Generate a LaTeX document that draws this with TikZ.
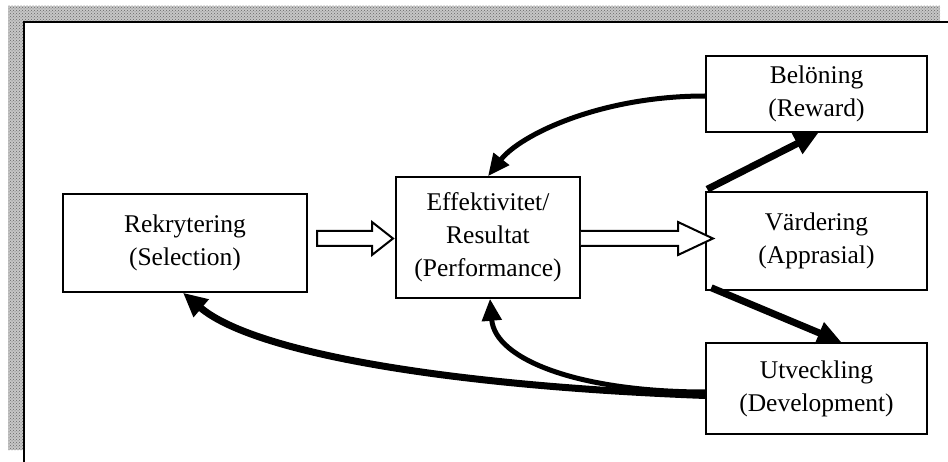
\documentclass[tikz,border=0pt]{standalone}
\usepackage{fontspec}
\setmainfont{Liberation Serif}
\usetikzlibrary{arrows.meta,calc,patterns}
\begin{document}
\begin{tikzpicture}[x=1pt,y=-1pt,
  box/.style={draw, line width=1.5pt, rectangle, align=center, inner sep=0pt,
    font=\fontsize{25.5}{33}\selectfont},
  heavy/.style={line width=7pt, -{Triangle[length=24pt,width=22pt]}},
  curvy/.style={line width=5pt, -{Triangle[length=22pt,width=19pt]}},
  hollow/.style={draw, fill=white, line width=2pt, line join=miter},
  border/.style={fill=gray!45}
]
\useasboundingbox (0,0) rectangle (948,462);
% textured frame
\fill[border] (8,6) rectangle (940,22);
\fill[border] (8,22) rectangle (24,450);
\fill[pattern=crosshatch dots, pattern color=black!60] (8,6) rectangle (940,22);
\fill[pattern=crosshatch dots, pattern color=black!60] (8,22) rectangle (24,450);
\draw[line width=2.5pt] (24,462) -- (24,22) -- (948,22);

% boxes
\node[box, minimum width=244pt, minimum height=98pt] (rek) at (185,243) {Rekrytering\\(Selection)};
\node[box, minimum width=184pt, minimum height=121pt] (eff) at (488,237.5) {Effektivitet/\\Resultat\\(Performance)};
\node[box, minimum width=221pt, minimum height=76pt] (bel) at (816.5,94) {Belöning\\(Reward)};
\node[box, minimum width=221pt, minimum height=98pt] (var) at (816.5,241) {Värdering\\(Apprasial)};
\node[box, minimum width=221pt, minimum height=91pt] (utv) at (816.5,388.5) {Utveckling\\(Development)};

% hollow arrows
\draw[hollow] (317,231) -- (372,231) -- (372,222) -- (393,238.5) -- (372,255) -- (372,246) -- (317,246) -- cycle;
\draw[hollow] (eff.east |- 0,231) -- (678,231) -- (678,222) -- (713,238.5) -- (678,255) -- (678,246) -- (eff.east |- 0,246);

% thick straight arrows
\draw[heavy] ($(var.north west)+(2,-2)$) -- ($(bel.south)+(2,0)$);
\draw[heavy] ($(var.south west)+(6,-3)$) -- ($(utv.north)+(25,0)$);

% curved arrows
\draw[curvy] ($(bel.west)+(0,2)$) .. controls (600,96) and (520,135) .. (eff.north);
\draw[curvy] ($(utv.west)+(0,3.5)$) .. controls (580,392) and (495,360) .. ($(eff.south)+(2,0)$);
\draw[heavy] ($(utv.west)+(0,7)$) .. controls (430,385) and (250,350) .. ($(rek.south)+(-2,0)$);
\end{tikzpicture}
\end{document}
